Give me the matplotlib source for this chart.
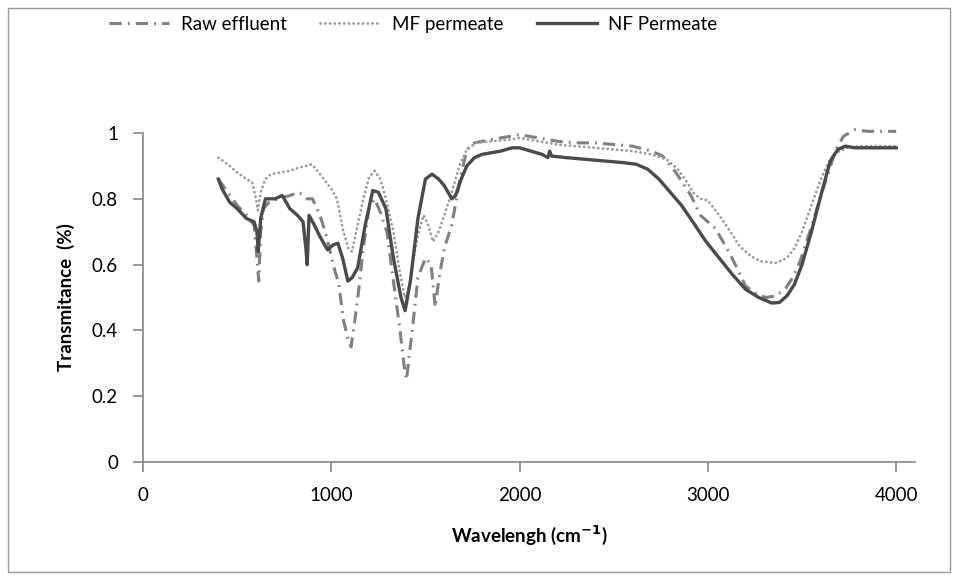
import matplotlib
matplotlib.use("Agg")
import matplotlib.pyplot as plt
from matplotlib.patches import Rectangle

plt.rcParams['font.family'] = ['Lato', 'DejaVu Sans']

# NF permeate
nf_x = [400, 420, 460, 500, 550, 590, 605, 612, 625, 650, 700, 740, 780, 820, 850, 865, 872, 882,
        910, 940, 980, 1010, 1035, 1060, 1088, 1110, 1140, 1180, 1220, 1250, 1290, 1330, 1370, 1392,
        1420, 1460, 1500, 1535, 1570, 1600, 1640, 1660, 1690, 1720, 1760, 1800, 1900, 1960, 2000,
        2060, 2120, 2150, 2160, 2170, 2250, 2350, 2450, 2550, 2620, 2680, 2740, 2800, 2860, 2920,
        2990, 3060, 3130, 3200, 3270, 3340, 3380, 3420, 3460, 3500, 3550, 3600, 3650, 3690, 3730,
        3780, 3850, 3920, 4000]
nf_y = [0.86, 0.83, 0.79, 0.77, 0.74, 0.73, 0.70, 0.64, 0.74, 0.80, 0.80, 0.81, 0.77, 0.75, 0.73,
        0.65, 0.60, 0.75, 0.72, 0.685, 0.645, 0.66, 0.665, 0.62, 0.55, 0.56, 0.59, 0.72, 0.825, 0.82,
        0.77, 0.62, 0.50, 0.46, 0.55, 0.74, 0.86, 0.875, 0.86, 0.84, 0.80, 0.81, 0.86, 0.90, 0.925,
        0.935, 0.945, 0.955, 0.955, 0.945, 0.935, 0.925, 0.945, 0.93, 0.925, 0.92, 0.915, 0.91,
        0.905, 0.89, 0.86, 0.82, 0.78, 0.73, 0.67, 0.62, 0.57, 0.525, 0.50, 0.483, 0.485, 0.505,
        0.54, 0.60, 0.70, 0.81, 0.915, 0.95, 0.96, 0.955, 0.955, 0.955, 0.955]

# raw effluent
raw_x = [400, 450, 500, 550, 590, 605, 615, 625, 640, 670, 720, 780, 830, 870, 900, 940, 975, 1010,
         1040, 1065, 1090, 1105, 1125, 1145, 1170, 1200, 1230, 1260, 1295, 1330, 1365, 1385, 1400,
         1415, 1430, 1460, 1500, 1530, 1552, 1570, 1600, 1640, 1680, 1720, 1760, 1850, 1950, 2000,
         2100, 2200, 2300, 2400, 2500, 2600, 2700, 2760, 2830, 2910, 2960, 3040, 3120, 3200, 3260,
         3310, 3360, 3410, 3450, 3490, 3550, 3600, 3640, 3680, 3720, 3780, 3850, 3950, 4000]
raw_y = [0.86, 0.82, 0.78, 0.75, 0.72, 0.62, 0.55, 0.70, 0.77, 0.79, 0.80, 0.81, 0.82, 0.80, 0.80,
         0.75, 0.685, 0.60, 0.54, 0.43, 0.37, 0.35, 0.43, 0.52, 0.65, 0.77, 0.80, 0.76, 0.70, 0.55,
         0.40, 0.30, 0.25, 0.33, 0.40, 0.56, 0.62, 0.60, 0.47, 0.55, 0.65, 0.72, 0.85, 0.95, 0.97,
         0.98, 0.99, 0.995, 0.985, 0.975, 0.97, 0.97, 0.965, 0.96, 0.945, 0.93, 0.88, 0.81, 0.75,
         0.71, 0.63, 0.535, 0.51, 0.50, 0.505, 0.525, 0.56, 0.61, 0.715, 0.81, 0.88, 0.95, 0.99,
         1.01, 1.005, 1.005, 1.005]

# MF permeate
mf_x = [400, 450, 500, 550, 580, 600, 610, 625, 650, 680, 730, 780, 830, 870, 895, 920, 960, 1000,
        1030, 1060, 1090, 1110, 1140, 1170, 1200, 1230, 1260, 1290, 1330, 1360, 1390, 1410, 1435,
        1460, 1490, 1515, 1540, 1570, 1600, 1640, 1680, 1720, 1770, 1850, 1950, 2000, 2100, 2200,
        2300, 2400, 2500, 2600, 2700, 2780, 2840, 2890, 2920, 2960, 3000, 3060, 3120, 3170, 3230,
        3280, 3360, 3420, 3460, 3500, 3550, 3600, 3640, 3680, 3740, 3800, 3900, 4000]
mf_y = [0.925, 0.905, 0.88, 0.86, 0.85, 0.80, 0.765, 0.82, 0.86, 0.875, 0.88, 0.885, 0.895, 0.90,
        0.905, 0.89, 0.86, 0.83, 0.80, 0.71, 0.65, 0.64, 0.72, 0.80, 0.865, 0.885, 0.86, 0.80, 0.70,
        0.59, 0.50, 0.52, 0.61, 0.69, 0.75, 0.72, 0.67, 0.70, 0.75, 0.82, 0.90, 0.95, 0.97, 0.975,
        0.98, 0.985, 0.975, 0.965, 0.96, 0.955, 0.95, 0.945, 0.935, 0.92, 0.89, 0.85, 0.82, 0.80,
        0.795, 0.75, 0.70, 0.655, 0.625, 0.61, 0.605, 0.62, 0.65, 0.70, 0.78, 0.86, 0.91, 0.94,
        0.955, 0.96, 0.96, 0.96]

fig = plt.figure(figsize=(9.59, 5.8), dpi=100)
ax = fig.add_axes([143 / 959, 1 - 462 / 580, (915 - 143) / 959, (462 - 133) / 580])

# outer chart border
fig.patches.append(Rectangle((8 / 959, 8 / 580), 942 / 959, 564 / 580, transform=fig.transFigure,
                             fill=False, edgecolor='#9a9a9a', linewidth=1))

ax.plot(raw_x, raw_y, color='#808080', lw=2.2, dashes=[4, 2, 0.6, 2], label='Raw effluent',
        clip_on=False)
ax.plot(mf_x, mf_y, color='#9c9c9c', lw=2.0, dashes=[0.1, 1.6], dash_capstyle='round',
        label='MF permeate', clip_on=False)
ax.plot(nf_x, nf_y, color='#4a4a4a', lw=2.4, label='NF Permeate', clip_on=False)

ax.set_xlim(0, 4100)
ax.set_ylim(0, 1)
ax.set_xticks([0, 1000, 2000, 3000, 4000])
ax.set_yticks([0, 0.2, 0.4, 0.6, 0.8, 1])
ax.set_yticklabels(['0', '0.2', '0.4', '0.6', '0.8', '1'])
for s in ['top', 'right']:
    ax.spines[s].set_visible(False)
for s in ['left', 'bottom']:
    ax.spines[s].set_color('#868686')
    ax.spines[s].set_linewidth(1.2)
ax.tick_params(colors='#868686', labelcolor='black', labelsize=13.5, length=7, width=1.2)
ax.tick_params(axis='x', pad=11)
ax.tick_params(axis='y', pad=11)

ax.set_xlabel(r'Wavelengh (cm$^{\bf{-1}}$)', fontsize=13.5, fontweight='bold', labelpad=14)
ax.set_ylabel('Transmitance  (%)', fontsize=13.5, fontweight='bold', labelpad=12)

ax.legend(loc='center', bbox_to_anchor=(0.35, 1.33), ncol=3, frameon=False, fontsize=13.5,
          handlelength=3.2, columnspacing=1.8, handletextpad=0.6)

fig.savefig('out.png', dpi=100)
